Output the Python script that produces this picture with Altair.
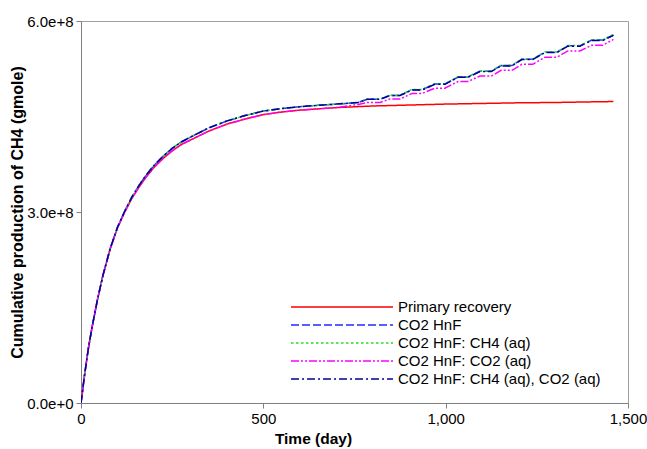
import altair as alt
import pandas as pd

series_names = ["Primary recovery", "CO2 HnF", "CO2 HnF: CH4 (aq)",
                "CO2 HnF: CO2 (aq)", "CO2 HnF: CH4 (aq), CO2 (aq)"]
colors = ["#ff0000", "#2828ff", "#22dd22", "#ff00ff", "#0000a0"]
dashes = [[1, 0], [8, 3], [2.5, 2.5], [8, 2, 2, 2, 2, 2], [8, 3, 2, 3]]

# values in units of 1e8 gmole
primary_t = [0, 10, 20, 30, 45, 60, 80, 100, 120, 140, 160, 180, 200, 225, 250, 275, 300,
             350, 400, 450, 500, 550, 600, 650, 700, 800, 900, 1000, 1100, 1200, 1300, 1400, 1460]
primary_v = [0, 0.45, 0.85, 1.18, 1.62, 2.0, 2.42, 2.75, 3.0, 3.22, 3.40, 3.56, 3.70, 3.84, 3.96,
             4.06, 4.13, 4.27, 4.38, 4.46, 4.53, 4.57, 4.60, 4.62, 4.64, 4.665, 4.68, 4.695,
             4.705, 4.715, 4.72, 4.73, 4.735]

hnf_t = [0, 10, 20, 30, 45, 60, 80, 100, 120, 140, 160, 180, 200, 225, 250, 275, 300, 350, 400,
         450, 500, 550, 600, 650, 700,
         760, 785, 820, 847, 875, 907, 935, 970, 998, 1034, 1061, 1094, 1125, 1152, 1182, 1209,
         1239, 1272, 1305, 1335, 1368, 1401, 1431, 1460]
hnf_v = [0, 0.45, 0.85, 1.18, 1.62, 2.0, 2.425, 2.76, 3.015, 3.24, 3.425, 3.59, 3.73, 3.875, 4.0,
         4.10, 4.175, 4.32, 4.43, 4.515, 4.585, 4.625, 4.655, 4.675, 4.695,
         4.72, 4.77, 4.77, 4.83, 4.83, 4.92, 4.92, 5.01, 5.01, 5.12, 5.12, 5.21, 5.21, 5.30, 5.30,
         5.40, 5.40, 5.51, 5.51, 5.61, 5.61, 5.70, 5.70, 5.78]
ch4aq_v = [0, 0.45, 0.85, 1.18, 1.62, 2.0, 2.425, 2.76, 3.015, 3.24, 3.425, 3.59, 3.73, 3.875, 4.0,
           4.10, 4.175, 4.32, 4.43, 4.515, 4.585, 4.625, 4.655, 4.675, 4.695,
           4.72, 4.775, 4.775, 4.835, 4.835, 4.925, 4.925, 5.015, 5.015, 5.125, 5.125, 5.215,
           5.215, 5.305, 5.305, 5.405, 5.405, 5.515, 5.515, 5.615, 5.615, 5.705, 5.705, 5.79]
co2aq_v = [0, 0.45, 0.85, 1.18, 1.62, 2.0, 2.42, 2.75, 3.0, 3.22, 3.40, 3.56, 3.70, 3.84, 3.96,
           4.06, 4.13, 4.27, 4.38, 4.46, 4.53, 4.57, 4.60, 4.62, 4.64,
           4.69, 4.72, 4.72, 4.775, 4.775, 4.86, 4.86, 4.945, 4.945, 5.05, 5.05, 5.135, 5.135,
           5.225, 5.225, 5.32, 5.32, 5.43, 5.43, 5.53, 5.53, 5.62, 5.62, 5.71]
both_v = [0, 0.45, 0.85, 1.18, 1.62, 2.0, 2.425, 2.76, 3.015, 3.24, 3.425, 3.59, 3.73, 3.875, 4.0,
          4.10, 4.175, 4.32, 4.43, 4.515, 4.585, 4.625, 4.655, 4.675, 4.695,
          4.72, 4.77, 4.77, 4.83, 4.83, 4.915, 4.915, 5.005, 5.005, 5.115, 5.115, 5.205, 5.205,
          5.295, 5.295, 5.395, 5.395, 5.505, 5.505, 5.605, 5.605, 5.695, 5.695, 5.775]

x_ticks = [0, 500, 1000, 1500]
y_ticks = [0, 3e8, 6e8]

rows = []
for name, ts, vs in [(series_names[0], primary_t, primary_v),
                     (series_names[1], hnf_t, hnf_v),
                     (series_names[2], hnf_t, ch4aq_v),
                     (series_names[3], hnf_t, co2aq_v),
                     (series_names[4], hnf_t, both_v)]:
    for i, (t, v) in enumerate(zip(ts, vs)):
        rows.append({"series": name, "order": series_names.index(name), "idx": i,
                     "t": t, "v": v * 1e8})
df = pd.DataFrame(rows)

FONT = "Liberation Sans"

chart = alt.Chart(df).mark_line(strokeWidth=1.5, clip=True).encode(
    x=alt.X("t:Q", scale=alt.Scale(domain=[0, 1500], nice=False),
            axis=alt.Axis(values=x_ticks, format=",d", title="Time (day)",
                          labelFlush=False,
                          titleX=232, titleY=40, titleBaseline="alphabetic",
                          titleAlign="center")),
    y=alt.Y("v:Q", scale=alt.Scale(domain=[0, 6e8], nice=False),
            axis=alt.Axis(values=y_ticks, format=".1e",
                          labelFlush=False,
                          title="Cumulative production of CH4 (gmole)",
                          titleX=-59, titleY=191, titleAngle=270,
                          titleBaseline="alphabetic", titleAlign="center",
                          titleFontSize=16)),
    color=alt.Color("series:N", scale=alt.Scale(domain=series_names, range=colors),
                    legend=alt.Legend(title=None)),
    strokeDash=alt.StrokeDash("series:N", scale=alt.Scale(domain=series_names, range=dashes),
                              legend=alt.Legend(title=None)),
    detail="order:O",
    order="idx:Q",
).properties(
    width=547, height=382,
    autosize=alt.AutoSizeParams(type="none"),
    padding={"left": 81, "top": 21, "right": 19, "bottom": 46},
).configure_view(
    stroke="#a0a0a0", strokeWidth=1
).configure_axis(
    grid=False, domainColor="#808080", tickColor="#808080", tickSize=5,
    labelFont=FONT, labelFontSize=15, labelColor="#000000", labelPadding=3,
    titleFont=FONT, titleFontSize=15.5, titleFontWeight="bold", titleColor="#000000",
).configure_legend(
    orient="none", legendX=209, legendY=277, padding=0, rowPadding=0, clipHeight=18,
    symbolType="stroke", symbolSize=10404, symbolStrokeWidth=1.5,
    labelFont=FONT, labelFontSize=15, labelColor="#000000", labelOffset=4, labelLimit=400,
)

chart.save("out.html", embed_options={"renderer": "svg", "actions": False})
